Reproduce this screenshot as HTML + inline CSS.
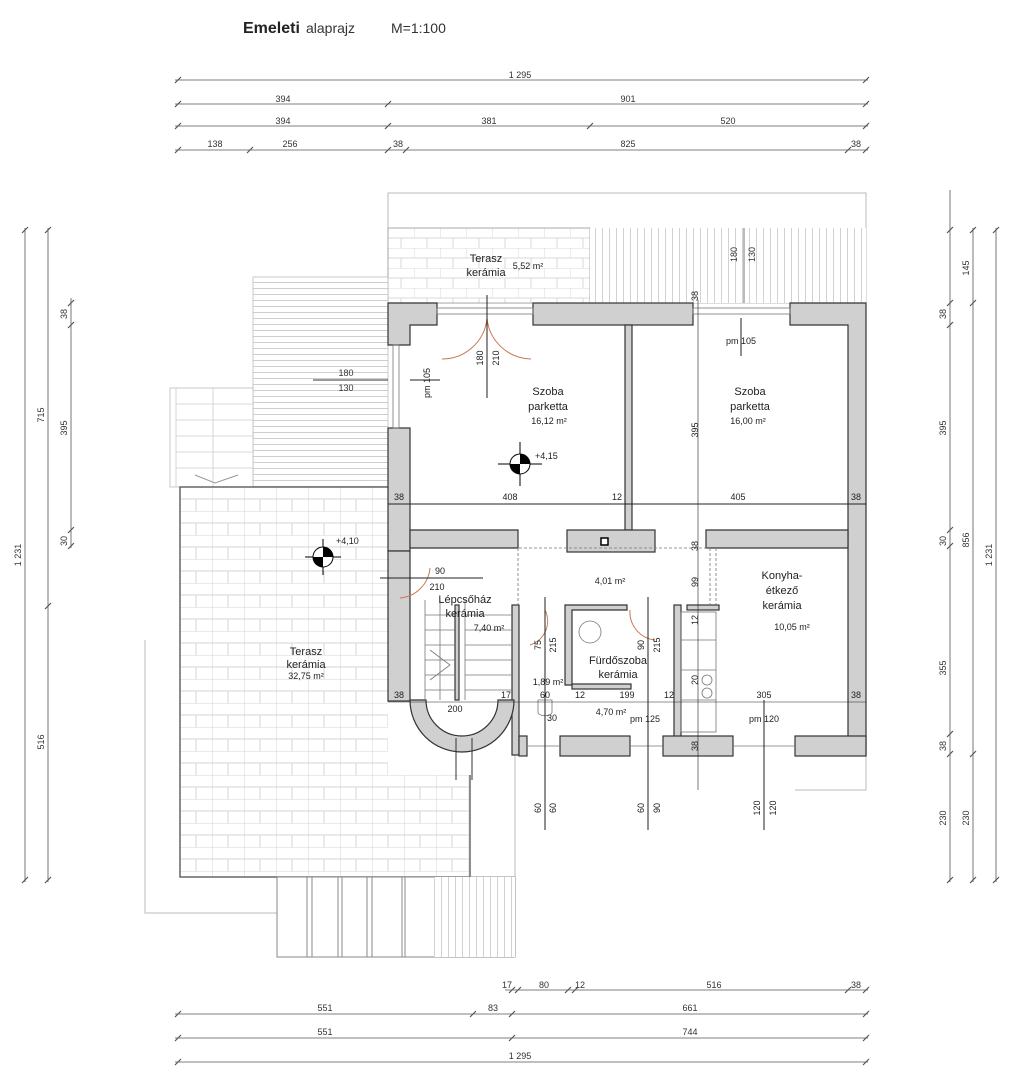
<!DOCTYPE html>
<html><head><meta charset="utf-8"><style>
html,body{margin:0;padding:0;background:#fff;}
svg{display:block;font-family:"Liberation Sans",sans-serif;}
</style></head><body>
<svg width="1024" height="1082" viewBox="0 0 1024 1082" xmlns="http://www.w3.org/2000/svg">
<defs>
<pattern id="tile" x="180" y="487" width="32" height="24" patternUnits="userSpaceOnUse">
<rect width="32" height="24" fill="#fff"/>
<path d="M0 0H32M0 12H32M0 0V24M16 12V24" stroke="#d4d4d4" stroke-width="1" fill="none"/>
</pattern>
<pattern id="tile2" x="388" y="228" width="26" height="20" patternUnits="userSpaceOnUse">
<rect width="26" height="20" fill="#fff"/>
<path d="M0 0H26M0 10H26M0 0V10M13 10V20" stroke="#d8d8d8" stroke-width="1" fill="none"/>
</pattern>
<pattern id="hl" width="10" height="6" patternUnits="userSpaceOnUse">
<rect width="10" height="6" fill="#fff"/><path d="M0 0.5H10" stroke="#cfcfcf"/>
</pattern>
<pattern id="vl" width="7" height="10" patternUnits="userSpaceOnUse">
<rect width="7" height="10" fill="#fff"/><path d="M0.5 0V10" stroke="#d2d2d2"/>
</pattern>
</defs>

<text x="243" y="33" font-size="16" font-weight="bold" fill="#222">Emeleti</text>
<text x="306" y="33" font-size="14" fill="#333">alaprajz</text>
<text x="391" y="33" font-size="14" fill="#333">M=1:100</text>

<g stroke="#555" stroke-width="0.8" font-size="9" fill="#333">
<line x1="175" y1="80" x2="868" y2="80"/>
<line x1="175" y1="104" x2="868" y2="104"/>
<line x1="175" y1="126" x2="868" y2="126"/>
<line x1="175" y1="150" x2="868" y2="150"/>
<g stroke-width="1.2">
<path d="M175 83L181 77M863 83L869 77"/>
<path d="M175 107L181 101M385 107L391 101M863 107L869 101"/>
<path d="M175 129L181 123M385 129L391 123M587 129L593 123M863 129L869 123"/>
<path d="M175 153L181 147M247 153L253 147M385 153L391 147M403 153L409 147M845 153L851 147M863 153L869 147"/>
</g>
</g>
<g font-size="9" fill="#333" text-anchor="middle">
<text x="520" y="78">1 295</text>
<text x="283" y="102">394</text><text x="628" y="102">901</text>
<text x="283" y="124">394</text><text x="489" y="124">381</text><text x="728" y="124">520</text>
<text x="215" y="147">138</text><text x="290" y="147">256</text><text x="398" y="147">38</text><text x="628" y="147">825</text><text x="856" y="147">38</text>
</g>

<g stroke="#555" stroke-width="0.8">
<line x1="505" y1="990" x2="868" y2="990"/>
<line x1="175" y1="1014" x2="868" y2="1014"/>
<line x1="175" y1="1038" x2="868" y2="1038"/>
<line x1="175" y1="1062" x2="868" y2="1062"/>
<g stroke-width="1.2">
<path d="M509 993L515 987M515 993L521 987M565 993L571 987M572 993L578 987M845 993L851 987M863 993L869 987"/>
<path d="M175 1017L181 1011M470 1017L476 1011M509 1017L515 1011M863 1017L869 1011"/>
<path d="M175 1041L181 1035M509 1041L515 1035M863 1041L869 1035"/>
<path d="M175 1065L181 1059M863 1065L869 1059"/>
</g>
</g>
<g font-size="9" fill="#333" text-anchor="middle">
<text x="507" y="988">17</text><text x="544" y="988">80</text><text x="580" y="988">12</text><text x="714" y="988">516</text><text x="856" y="988">38</text>
<text x="325" y="1011">551</text><text x="493" y="1011">83</text><text x="690" y="1011">661</text>
<text x="325" y="1035">551</text><text x="690" y="1035">744</text>
<text x="520" y="1059">1 295</text>
</g>

<g stroke="#555" stroke-width="0.8">
<line x1="25" y1="228" x2="25" y2="882"/>
<line x1="48" y1="228" x2="48" y2="882"/>
<line x1="71" y1="298" x2="71" y2="548"/>
<line x1="950" y1="190" x2="950" y2="882"/>
<line x1="973" y1="228" x2="973" y2="882"/>
<line x1="996" y1="228" x2="996" y2="882"/>
<g stroke-width="1.2">
<path d="M22 233L28 227M22 883L28 877M45 233L51 227M45 609L51 603M45 883L51 877"/>
<path d="M68 306L74 300M68 328L74 322M68 533L74 527M68 549L74 543"/>
<path d="M947 233L953 227M947 306L953 300M947 328L953 322M947 533L953 527M947 549L953 543M947 737L953 731M947 757L953 751M947 883L953 877"/>
<path d="M970 233L976 227M970 306L976 300M970 757L976 751M970 883L976 877M993 233L999 227M993 883L999 877"/>
</g>
</g>
<g font-size="9" fill="#333" text-anchor="middle">
<text transform="translate(21,555) rotate(-90)">1 231</text>
<text transform="translate(44,415) rotate(-90)">715</text>
<text transform="translate(44,742) rotate(-90)">516</text>
<text transform="translate(67,314) rotate(-90)">38</text>
<text transform="translate(67,428) rotate(-90)">395</text>
<text transform="translate(67,541) rotate(-90)">30</text>
<text transform="translate(946,314) rotate(-90)">38</text>
<text transform="translate(946,428) rotate(-90)">395</text>
<text transform="translate(946,541) rotate(-90)">30</text>
<text transform="translate(946,668) rotate(-90)">355</text>
<text transform="translate(946,746) rotate(-90)">38</text>
<text transform="translate(946,818) rotate(-90)">230</text>
<text transform="translate(969,268) rotate(-90)">145</text>
<text transform="translate(969,540) rotate(-90)">856</text>
<text transform="translate(969,818) rotate(-90)">230</text>
<text transform="translate(992,555) rotate(-90)">1 231</text>
</g>

<g fill="none" stroke="#bbb" stroke-width="1">
<rect x="388" y="193" width="478" height="110"/>
<path d="M866 303V790H795M145 640V913H278M515 755V880"/>
</g>

<rect x="388" y="228" width="202" height="75" fill="url(#tile2)" stroke="#999" stroke-width="0.8"/>
<rect x="590" y="228" width="276" height="75" fill="url(#vl)"/>
<text x="486" y="262" font-size="11" text-anchor="middle" fill="#222">Terasz</text>
<text x="486" y="276" font-size="11" text-anchor="middle" fill="#222">kerámia</text>
<text x="528" y="269" font-size="9" text-anchor="middle" fill="#222">5,52 m²</text>
<text transform="translate(737,262) rotate(-90)" font-size="9" fill="#333">180</text>
<text transform="translate(755,262) rotate(-90)" font-size="9" fill="#333">130</text>
<line x1="744" y1="228" x2="744" y2="303" stroke="#555" stroke-width="0.8"/>

<rect x="253" y="277" width="135" height="210" fill="url(#hl)" stroke="#bbb" stroke-width="0.8"/>
<rect x="170" y="388" width="83" height="99" fill="#fff" stroke="#bbb" stroke-width="0.8"/>
<g stroke="#ccc" stroke-width="0.8"><path d="M176 404H253M176 420H253M176 436H253M176 452H253M176 468H253M213 388V487M176 388V487"/></g>
<path d="M195 475L215 483L238 475" stroke="#999" fill="none"/>
<line x1="313" y1="380" x2="388" y2="380" stroke="#333"/>
<text x="346" y="376" font-size="9" text-anchor="middle" fill="#333">180</text>
<text x="346" y="391" font-size="9" text-anchor="middle" fill="#333">130</text>

<path d="M180 487H388V775H470V877H180Z" fill="url(#tile)"/>
<path d="M388 487H180V877H470V775" fill="none" stroke="#666" stroke-width="1.5"/>
<text x="306" y="655" font-size="11" text-anchor="middle" fill="#222">Terasz</text>
<text x="306" y="668" font-size="11" text-anchor="middle" fill="#222">kerámia</text>
<text x="306" y="679" font-size="9" text-anchor="middle" fill="#222">32,75 m²</text>
<g transform="translate(323,557)">
<line x1="-18" y1="0" x2="18" y2="0" stroke="#000"/><line x1="0" y1="-18" x2="0" y2="18" stroke="#000"/>
<circle r="10" fill="#fff" stroke="#000"/><path d="M0 -10A10 10 0 0 1 10 0H0ZM0 10A10 10 0 0 1 -10 0H0Z" fill="#000"/>
<text x="13" y="-13" font-size="9" fill="#222">+4,10</text>
</g>

<rect x="277" y="877" width="238" height="80" fill="#fff" stroke="#888" stroke-width="1"/>
<g stroke="#888" stroke-width="1"><path d="M307 877V957M312 877V957M338 877V957M342 877V957M367 877V957M372 877V957M402 877V957M405 877V957"/></g>
<rect x="434" y="877" width="81" height="80" fill="url(#vl)"/>

<rect x="410" y="325" width="438" height="410" fill="#fff"/>

<g fill="#d0d0d0" stroke="#333" stroke-width="1.2">
<path d="M388 303H437V325H410V345H388Z"/>
<rect x="533" y="303" width="160" height="22"/>
<path d="M790 303H866V755H848V325H790Z"/>
<rect x="388" y="428" width="22" height="123"/>
<path d="M410 530H518V548H410Z"/>
<rect x="625" y="325" width="7" height="205"/>
<rect x="567" y="530" width="88" height="22"/>
<path d="M706 530H848V548H706Z"/>
<rect x="388" y="551" width="22" height="150"/>
<rect x="512" y="605" width="7" height="150"/>
<path d="M565 605H627V610H572V685H565Z"/>
<rect x="674" y="605" width="7" height="140"/>
<rect x="687" y="605" width="32" height="5"/>
<rect x="572" y="684" width="59" height="5"/>
<rect x="560" y="736" width="70" height="20"/>
<rect x="663" y="736" width="70" height="20"/>
<rect x="795" y="736" width="71" height="20"/>
<rect x="519" y="736" width="8" height="20"/>
<rect x="455" y="605" width="4" height="95"/>
</g>
<path d="M410 700A52 52 0 0 0 514 700H498A36 36 0 0 1 426 700Z" fill="#d0d0d0" stroke="#333" stroke-width="1.2"/>
<path d="M456 738V780M472 738V780" stroke="#333"/>
<rect x="601" y="538" width="7" height="7" fill="#fff" stroke="#000" stroke-width="1.5"/>

<g stroke="#777" stroke-width="0.8" fill="none">
<rect x="437" y="308" width="96" height="6"/>
<rect x="693" y="308" width="97" height="6"/>
<rect x="393" y="345" width="6" height="83"/>
<path d="M527 746H560M630 746H663M733 746H795"/>
<path d="M518 548V605M710 548V605M716 548V605M519 548H710" stroke-dasharray="3,2"/>
<rect x="681" y="612" width="35" height="120"/>
<path d="M681 640H716M681 670H716M681 700H716"/>
<circle cx="590" cy="632" r="11"/>
<circle cx="707" cy="680" r="5"/><circle cx="707" cy="693" r="5"/>
<path d="M425 600V700M440 600V700M425 615H455M425 630H455M425 645H455M425 660H455M425 675H455M425 690H455M465 615H512M465 630H512M465 645H512M465 660H512M465 675H512M465 690H512M465 600V700"/>
<path d="M430 650L450 665L430 680" />
<path d="M538 700h14v12c0 5 -14 5 -14 0Z"/>
</g>
<g stroke="#c87850" fill="none" stroke-width="1">
<path d="M442 359A45 45 0 0 0 487 318M531 359A45 45 0 0 1 487 318"/>
<path d="M400 598A33 33 0 0 0 430 568"/>
<path d="M530 645A25 25 0 0 0 545 610"/>
<path d="M630 610A28 28 0 0 0 655 640"/>
</g>
<g stroke="#222" stroke-width="1">
<line x1="487" y1="295" x2="487" y2="398"/>
<line x1="410" y1="380" x2="440" y2="380"/>
<line x1="741" y1="318" x2="741" y2="356"/>
<line x1="388" y1="504" x2="866" y2="504"/>
<line x1="698" y1="300" x2="698" y2="790" stroke-width="0.6"/>
<line x1="380" y1="578" x2="483" y2="578"/>
<line x1="545" y1="597" x2="545" y2="830"/>
<line x1="648" y1="597" x2="648" y2="830"/>
<line x1="764" y1="700" x2="764" y2="830"/>
<line x1="388" y1="702" x2="866" y2="702" stroke-width="0.6"/>
</g>
<g transform="translate(520,464)">
<line x1="-22" y1="0" x2="22" y2="0" stroke="#000"/><line x1="0" y1="-22" x2="0" y2="22" stroke="#000"/>
<circle r="10" fill="#fff" stroke="#000"/><path d="M0 -10A10 10 0 0 1 10 0H0ZM0 10A10 10 0 0 1 -10 0H0Z" fill="#000"/>
<text x="15" y="-5" font-size="9" fill="#222">+4,15</text>
</g>

<g font-size="11" fill="#222" text-anchor="middle">
<text x="548" y="395">Szoba</text><text x="548" y="410">parketta</text>
<text x="750" y="395">Szoba</text><text x="750" y="410">parketta</text>
<text x="782" y="579">Konyha-</text><text x="782" y="594">étkező</text><text x="782" y="609">kerámia</text>
<text x="465" y="603">Lépcsőház</text><text x="465" y="617">kerámia</text>
<text x="618" y="664">Fürdőszoba</text><text x="618" y="678">kerámia</text>
</g>
<g font-size="9" fill="#222" text-anchor="middle">
<text x="549" y="424">16,12 m²</text><text x="748" y="424">16,00 m²</text>
<text x="610" y="584">4,01 m²</text><text x="792" y="630">10,05 m²</text>
<text x="489" y="631">7,40 m²</text><text x="548" y="685">1,89 m²</text>
<text x="611" y="715">4,70 m²</text>
<text x="741" y="344">pm 105</text><text x="645" y="722">pm 125</text><text x="764" y="722">pm 120</text>
<text x="440" y="574">90</text><text x="437" y="590">210</text>
<text x="399" y="500">38</text><text x="510" y="500">408</text><text x="617" y="500">12</text><text x="738" y="500">405</text><text x="856" y="500">38</text>
<text x="399" y="698">38</text><text x="455" y="712">200</text><text x="506" y="698">17</text><text x="545" y="698">60</text><text x="580" y="698">12</text><text x="627" y="698">199</text><text x="669" y="698">12</text><text x="764" y="698">305</text><text x="856" y="698">38</text>
<text x="552" y="721">30</text>
<text transform="translate(430,383) rotate(-90)">pm 105</text>
<text transform="translate(483,358) rotate(-90)">180</text>
<text transform="translate(499,358) rotate(-90)">210</text>
<text transform="translate(698,296) rotate(-90)">38</text>
<text transform="translate(698,430) rotate(-90)">395</text>
<text transform="translate(698,546) rotate(-90)">38</text>
<text transform="translate(698,582) rotate(-90)">99</text>
<text transform="translate(698,620) rotate(-90)">12</text>
<text transform="translate(698,680) rotate(-90)">20</text>
<text transform="translate(698,746) rotate(-90)">38</text>
<text transform="translate(541,645) rotate(-90)">75</text>
<text transform="translate(556,645) rotate(-90)">215</text>
<text transform="translate(644,645) rotate(-90)">90</text>
<text transform="translate(660,645) rotate(-90)">215</text>
<text transform="translate(541,808) rotate(-90)">60</text>
<text transform="translate(556,808) rotate(-90)">60</text>
<text transform="translate(644,808) rotate(-90)">60</text>
<text transform="translate(660,808) rotate(-90)">90</text>
<text transform="translate(760,808) rotate(-90)">120</text>
<text transform="translate(776,808) rotate(-90)">120</text>
</g>
</svg>
</body></html>
